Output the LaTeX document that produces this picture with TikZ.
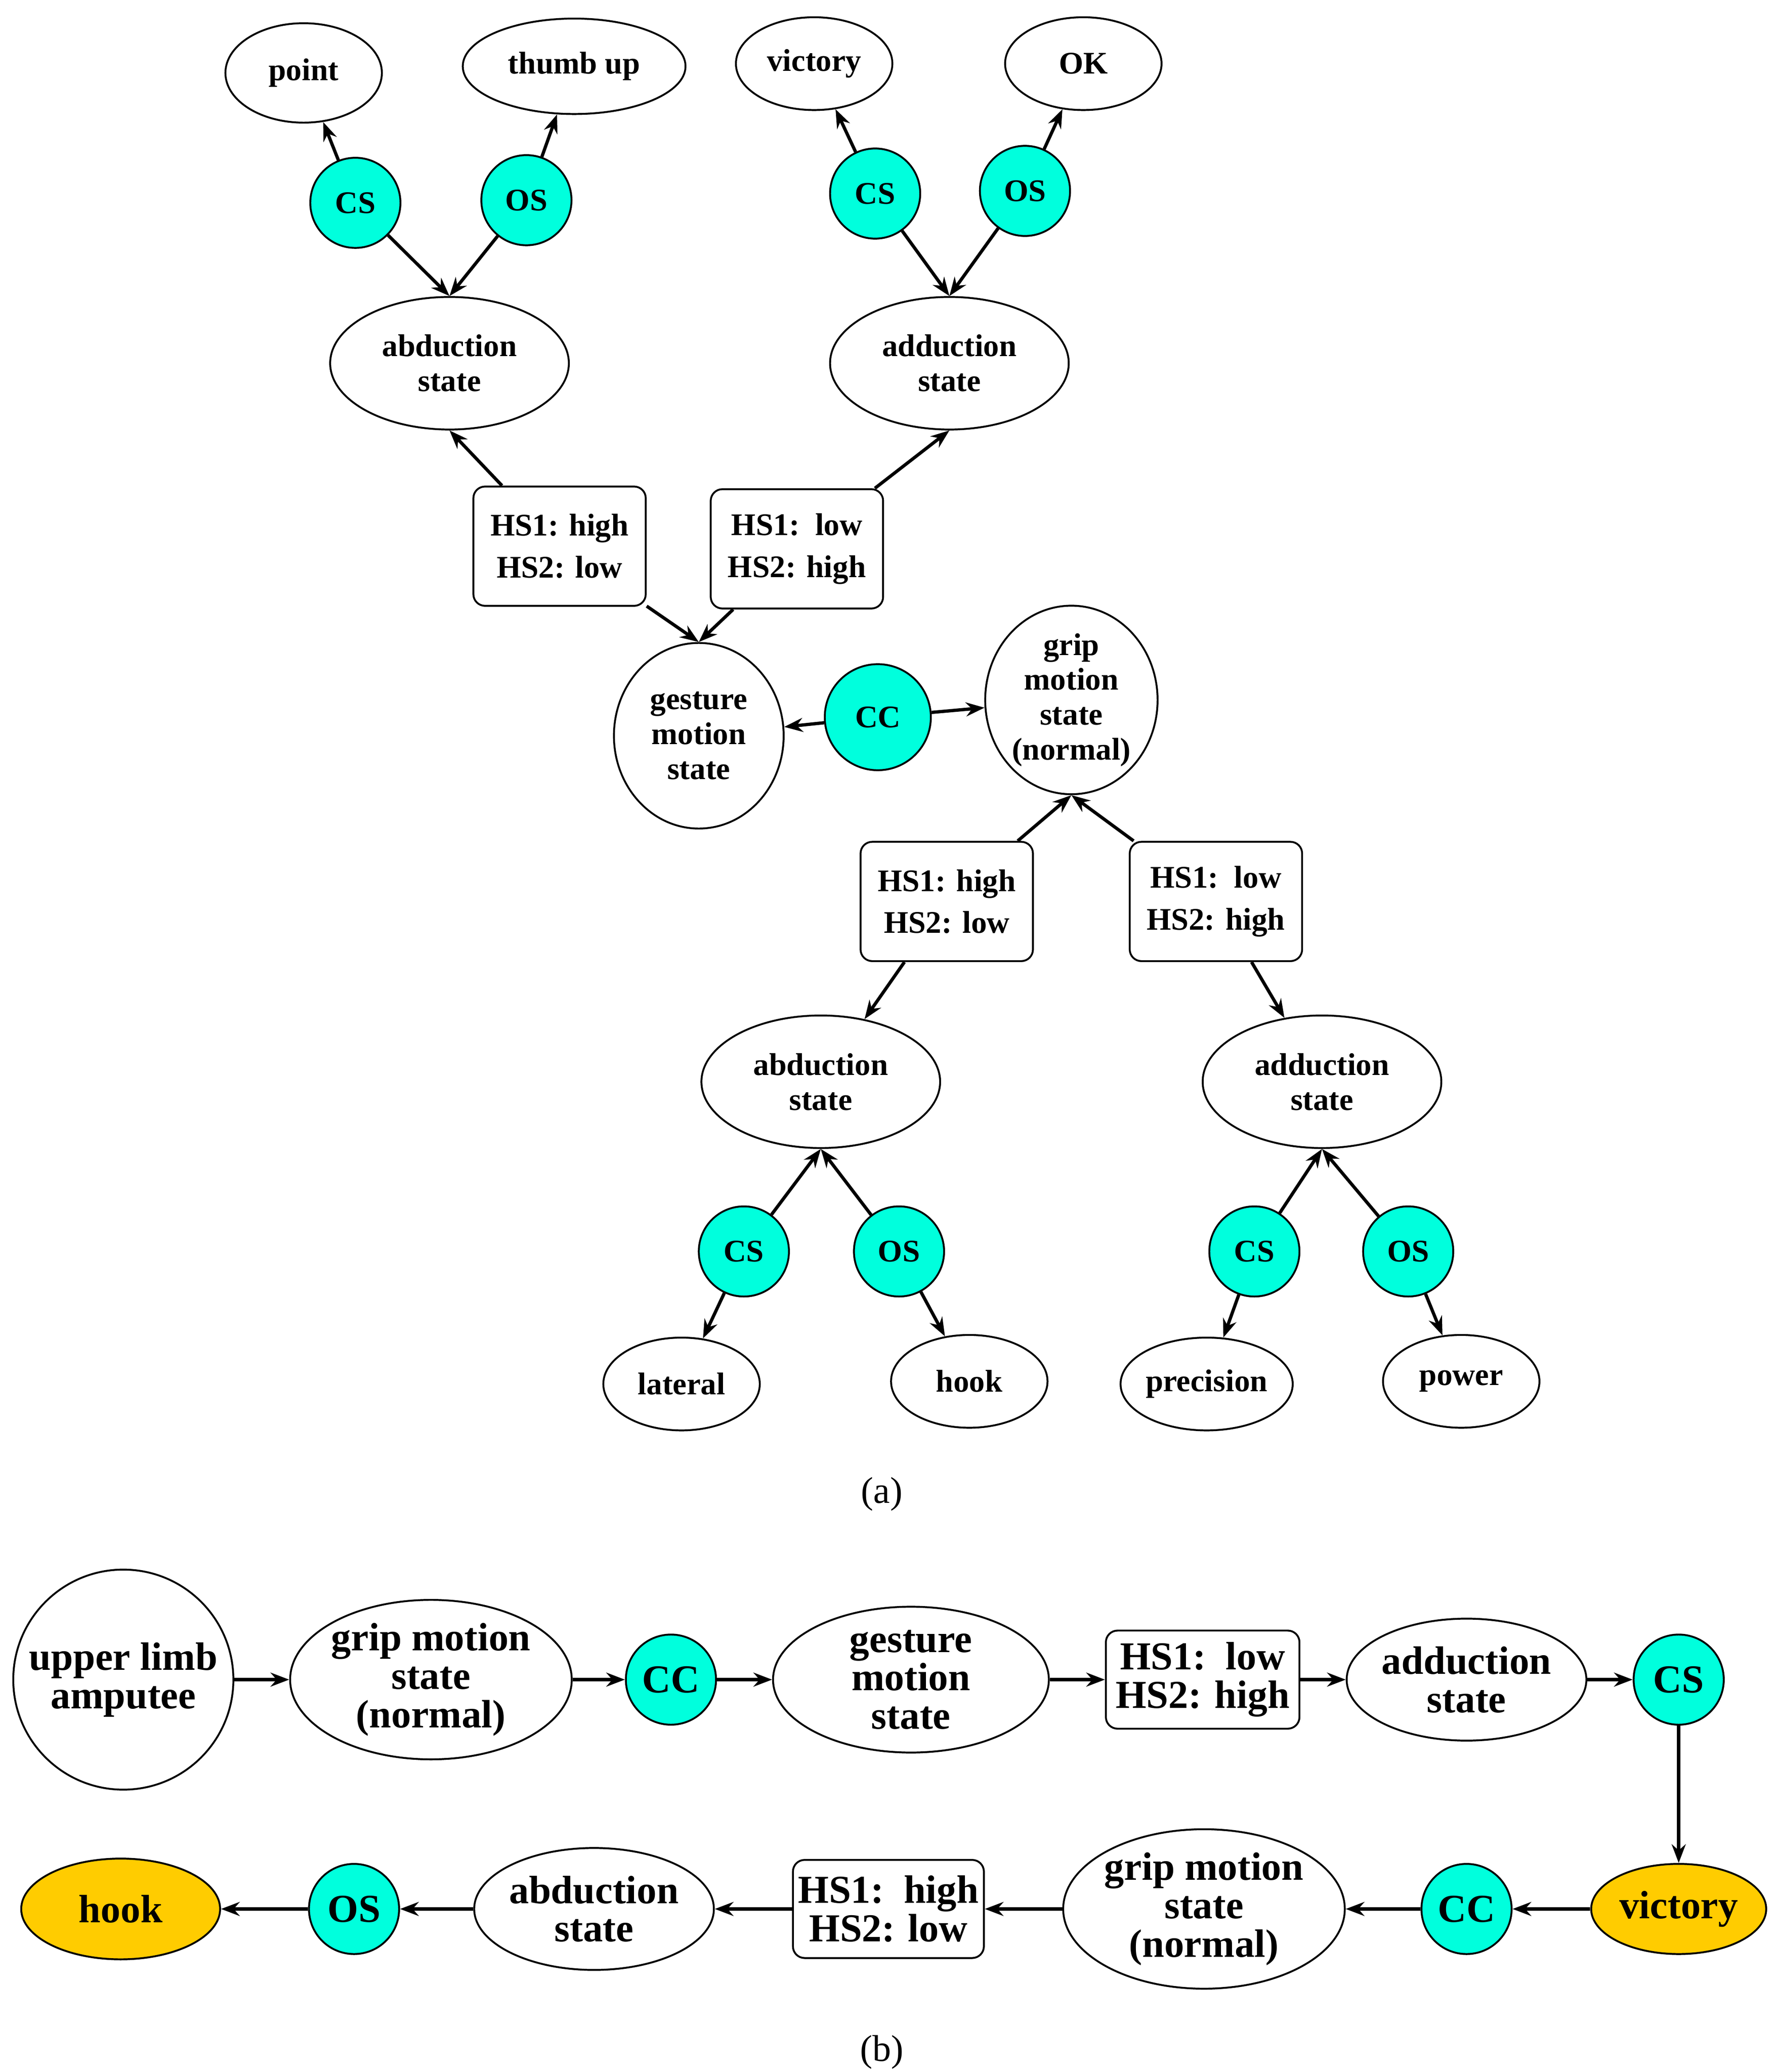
\documentclass[tikz,border=0pt]{standalone}
\usepackage{fontspec}
\setmainfont{Liberation Serif}
\usetikzlibrary{shapes.geometric,arrows.meta}
\definecolor{cy}{HTML}{00FFDD}
\definecolor{yl}{HTML}{FFCC00}
\begin{document}
\begin{tikzpicture}[x=0.02cm,y=-0.02cm,
 every node/.style={font=\bfseries\fontsize{13.5}{15}\selectfont,align=center,inner sep=0pt},
 el/.style={draw,ellipse,line width=0.8pt},
 bx/.style={draw,rounded corners=5pt,line width=0.8pt},
 ci/.style={draw,circle,fill=cy,minimum size=68*0.02cm,line width=0.8pt},
 B/.style={font=\bfseries\fontsize{17}{16.5}\selectfont},
 ar/.style={-{Stealth[length=8pt,width=6pt]},line width=1.4pt}]
\useasboundingbox (0,0) rectangle (1340,1563);
% (a)
\node[el,minimum width=118*0.02cm,minimum height=75*0.02cm] (pt) at (229,55) {point};
\node[el,minimum width=168*0.02cm,minimum height=72*0.02cm] (tu) at (433,50) {thumb up};
\node[el,minimum width=118*0.02cm,minimum height=70*0.02cm] (vi) at (614,48) {victory};
\node[el,minimum width=118*0.02cm,minimum height=70*0.02cm] (ok) at (817,48) {OK};
\node[ci] (cs1) at (268,153) {CS};
\node[ci] (os1) at (397,151) {OS};
\node[ci] (cs2) at (660,146) {CS};
\node[ci] (os2) at (773,144) {OS};
\node[el,minimum width=180*0.02cm,minimum height=100*0.02cm] (ab1) at (339,274) {abduction\\state};
\node[el,minimum width=180*0.02cm,minimum height=100*0.02cm] (ad1) at (716,274) {adduction\\state};
\node[bx,minimum width=130*0.02cm,minimum height=90*0.02cm] (b1) at (422,412) {HS1: high\\[3pt]HS2: low};
\node[bx,minimum width=130*0.02cm,minimum height=90*0.02cm] (b2) at (601,414) {HS1:\ \ low\\[3pt]HS2: high};
\node[el,minimum width=128*0.02cm,minimum height=140*0.02cm] (gm) at (527,555) {gesture\\motion\\state};
\node[ci,minimum size=80*0.02cm] (cc) at (662,541) {CC};
\node[el,minimum width=130*0.02cm,minimum height=135*0.02cm] (gr) at (808,528) {grip\\motion\\state\\(normal)};
\node[bx,minimum width=130*0.02cm,minimum height=90*0.02cm] (b3) at (714,680) {HS1: high\\[3pt]HS2: low};
\node[bx,minimum width=130*0.02cm,minimum height=90*0.02cm] (b4) at (917,680) {HS1:\ \ low\\[3pt]HS2: high};
\node[el,minimum width=180*0.02cm,minimum height=100*0.02cm] (ab2) at (619,816) {abduction\\state};
\node[el,minimum width=180*0.02cm,minimum height=100*0.02cm] (ad2) at (997,816) {adduction\\state};
\node[ci] (cs3) at (561,944) {CS};
\node[ci] (os3) at (678,944) {OS};
\node[ci] (cs4) at (946,944) {CS};
\node[ci] (os4) at (1062,944) {OS};
\node[el,minimum width=118*0.02cm,minimum height=70*0.02cm] (la) at (514,1044) {lateral};
\node[el,minimum width=118*0.02cm,minimum height=70*0.02cm] (ho) at (731,1042) {hook};
\node[el,minimum width=118*0.02cm,minimum height=70*0.02cm] (pr) at (910,1044) {precision};
\node[el,minimum width=118*0.02cm,minimum height=70*0.02cm] (po) at (1102,1042) {power};
\node[font=\fontsize{16}{18}\selectfont] (la1) at (665,1127) {(a)};
\draw[ar] (cs1)--(pt); \draw[ar] (os1)--(tu); \draw[ar] (cs2)--(vi); \draw[ar] (os2)--(ok);
\draw[ar] (cs1)--(ab1.north); \draw[ar] (os1)--(ab1.north);
\draw[ar] (cs2)--(ad1.north); \draw[ar] (os2)--(ad1.north);
\draw[ar] (b1)--(ab1.south); \draw[ar] (b2)--(ad1.south);
\draw[ar] (b1)--(gm.north); \draw[ar] (b2)--(gm.north);
\draw[ar] (cc)--(gm); \draw[ar] (cc)--(gr);
\draw[ar] (b3)--(gr.south); \draw[ar] (b4)--(gr.south);
\draw[ar] (b3)--(ab2); \draw[ar] (b4)--(ad2);
\draw[ar] (cs3)--(ab2.south); \draw[ar] (os3)--(ab2.south);
\draw[ar] (cs4)--(ad2.south); \draw[ar] (os4)--(ad2.south);
\draw[ar] (cs3)--(la); \draw[ar] (os3)--(ho); \draw[ar] (cs4)--(pr); \draw[ar] (os4)--(po);
% (b)
\node[el,B,circle,minimum size=166*0.02cm] (ua) at (93,1267) {upper limb\\amputee};
\node[el,B,minimum width=208*0.02cm,minimum height=110*0.02cm] (g1) at (325,1267) {grip motion\\state\\(normal)};
\node[ci,B] (c1) at (506,1267) {CC};
\node[el,B,minimum width=208*0.02cm,minimum height=110*0.02cm] (ge) at (687,1267) {gesture\\motion\\state};
\node[bx,B,minimum width=146*0.02cm,minimum height=74*0.02cm] (x1) at (907,1267) {HS1:\ \ low\\HS2: high};
\node[el,B,minimum width=166*0.02cm,minimum height=92*0.02cm] (adb) at (1106,1267) {adduction\\state};
\node[ci,B] (c2) at (1266,1267) {CS};
\node[el,B,fill=yl,minimum width=132*0.02cm,minimum height=68*0.02cm] (vb) at (1266,1440) {victory};
\node[ci,B] (c3) at (1106,1440) {CC};
\node[el,B,minimum width=198*0.02cm,minimum height=110*0.02cm] (g2) at (908,1440) {grip motion\\state\\(normal)};
\node[bx,B,minimum width=144*0.02cm,minimum height=74*0.02cm] (x2) at (670,1440) {HS1:\ \ high\\HS2: low};
\node[el,B,minimum width=164*0.02cm,minimum height=92*0.02cm] (abb) at (448,1440) {abduction\\state};
\node[ci,B] (c4) at (267,1440) {OS};
\node[el,B,fill=yl,minimum width=150*0.02cm,minimum height=76*0.02cm] (hb) at (91,1440) {hook};
\node[font=\fontsize{16}{18}\selectfont] (lb) at (665,1548) {(b)};
\draw[ar] (ua)--(g1); \draw[ar] (g1)--(c1); \draw[ar] (c1)--(ge); \draw[ar] (ge)--(x1);
\draw[ar] (x1)--(adb); \draw[ar] (adb)--(c2); \draw[ar] (c2)--(vb); \draw[ar] (vb)--(c3);
\draw[ar] (c3)--(g2); \draw[ar] (g2)--(x2); \draw[ar] (x2)--(abb); \draw[ar] (abb)--(c4); \draw[ar] (c4)--(hb);
\end{tikzpicture}
\end{document}
